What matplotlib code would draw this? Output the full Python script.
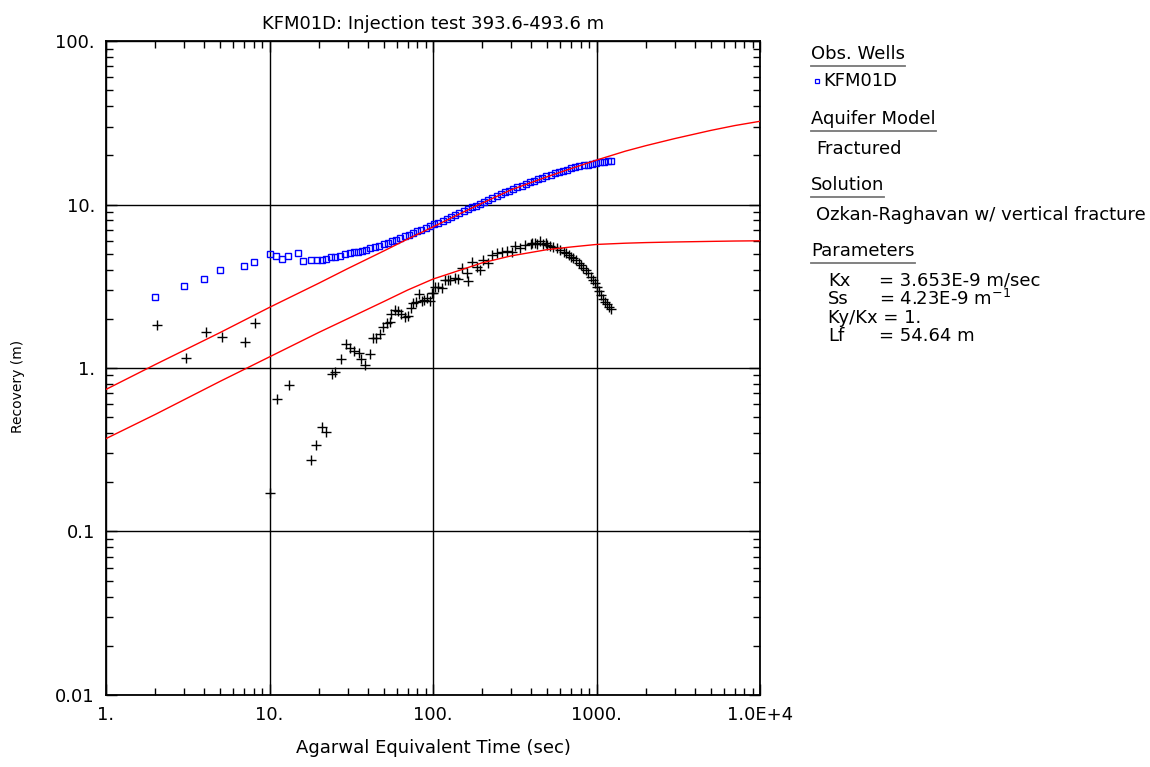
import matplotlib.pyplot as plt
from matplotlib.ticker import FixedLocator, LogLocator, NullFormatter

plt.rcParams['font.family'] = ['DejaVu Sans']

# recovery data (blue squares)
rec_t = [2, 3, 4, 5, 7, 8, 10, 11, 12, 13, 15, 16, 18, 19.4, 20.8, 22, 23.8, 25, 27, 29,
         31, 33, 35, 37, 39, 41, 44, 47, 50, 53, 56, 59, 63, 67, 71, 75, 80, 85, 90, 96,
         102, 108, 115, 122, 129, 137, 145, 154, 163, 173, 183, 194, 206, 218, 231, 245,
         260, 276, 292, 310, 328, 348, 369, 391, 414, 439, 465, 493, 523, 554, 587, 622,
         660, 700, 742, 786, 833, 883, 936, 992, 1050, 1110, 1170, 1230]
rec_s = [2.73, 3.17, 3.5, 3.96, 4.2, 4.47, 4.96, 4.82, 4.66, 4.84, 5.02, 4.53, 4.6, 4.6,
         4.6, 4.66, 4.75, 4.77, 4.84, 4.98,
         5.05, 5.1, 5.15, 5.2, 5.3, 5.4, 5.5, 5.6, 5.7, 5.85, 5.95, 6.05, 6.2, 6.4, 6.55,
         6.7, 6.85, 7.0, 7.15, 7.35, 7.55, 7.75, 7.95, 8.15, 8.35, 8.6, 8.85, 9.1, 9.35,
         9.6, 9.85, 10.1, 10.4, 10.65, 10.95, 11.25, 11.55, 11.85, 12.15, 12.45, 12.75,
         13.05, 13.35, 13.7, 14.0, 14.3, 14.6, 14.95, 15.25, 15.55, 15.8, 16.1, 16.35,
         16.65, 16.9, 17.1, 17.35, 17.55, 17.75, 17.95, 18.1, 18.25, 18.4, 18.5]

# derivative data (black crosses)
der_t = [2.04, 3.07, 4.06, 5.1, 7.06, 8.1, 10.1, 11.1, 13.1, 18, 19.2, 20.9, 22.2, 24,
         25.3, 27.3, 29.3, 31, 32.9, 35.3, 36.3, 38.4, 41.2, 43, 45, 47.5, 49.3, 52, 54.6,
         55.5, 58.5, 61, 64, 67.3, 70.6, 73, 75.5, 78.5, 82, 86, 88, 91.5, 96, 98, 100,
         103, 108, 113, 118, 123, 127, 136, 142, 150, 161, 164, 172, 185, 194, 202, 218,
         228, 245, 264, 282, 304, 318, 341, 365, 395, 402, 420, 430, 451, 472, 490, 500,
         520, 545, 572, 600, 630, 650, 675, 700, 720, 750, 777, 800, 830, 860, 892, 920,
         954, 980, 1000, 1030, 1060, 1090, 1120, 1160, 1200, 1230]
der_s = [1.84, 1.15, 1.65, 1.54, 1.45, 1.89, 0.171, 0.644, 0.783, 0.272, 0.338, 0.436,
         0.406, 0.92, 0.95, 1.13, 1.40, 1.33, 1.27, 1.23, 1.13, 1.05, 1.22, 1.53, 1.53,
         1.61, 1.77, 1.88, 1.92, 2.14, 2.26, 2.23, 2.14, 2.06, 2.08, 2.32, 2.49, 2.55,
         2.82, 2.57, 2.61, 2.69, 2.57, 2.86, 2.89, 3.14, 3.14, 3.1, 3.45, 3.45, 3.45,
         3.53, 3.5, 4.07, 3.79, 3.42, 4.47, 4.17, 3.98, 4.57, 4.4, 4.91, 5.02, 5.14,
         5.22, 5.14, 5.57, 5.4, 5.65, 5.7, 5.79, 5.85, 5.75, 6.0, 5.73, 5.8, 5.65, 5.57,
         5.5, 5.4, 5.3, 5.14, 5.05, 4.91, 4.8, 4.69, 4.55, 4.37, 4.25, 4.07, 3.95, 3.79,
         3.6, 3.45, 3.3, 3.14, 2.95, 2.79, 2.65, 2.55, 2.45, 2.35, 2.3]

# fitted model curves (red): recovery and derivative
fit_t = [1, 2, 5, 10, 20, 30, 50, 70, 100, 150, 200, 300, 500, 700, 1000, 1500, 2000,
         3000, 5000, 7000, 10000]
fit_s = [0.74, 1.05, 1.65, 2.35, 3.3, 4.05, 5.2, 6.15, 7.3, 8.9, 10.2, 12.3, 14.8, 16.6,
         18.7, 21.2, 22.9, 25.3, 28.4, 30.4, 32.3]
fit_d = [0.37, 0.52, 0.83, 1.17, 1.65, 2.0, 2.55, 3.0, 3.5, 4.0, 4.4, 4.85, 5.3, 5.5,
         5.7, 5.8, 5.85, 5.9, 5.95, 5.98, 6.0]

fig = plt.figure(figsize=(11.5, 7.67), dpi=100)
ax = fig.add_axes([0.0922, 0.0939, 0.5687, 0.8526])

ax.plot(fit_t, fit_s, color='red', lw=1, zorder=3)
ax.plot(fit_t, fit_d, color='red', lw=1, zorder=3)
ax.plot(rec_t, rec_s, ls='none', marker='s', ms=4.8, mfc='none', mec='#0000ff', mew=1, zorder=2)
ax.plot(der_t, der_s, ls='none', marker='+', ms=6.5, color='black', mew=1, zorder=2)

ax.set_xscale('log')
ax.set_yscale('log')
ax.set_xlim(1, 1e4)
ax.set_ylim(0.01, 100)

xt = [1, 10, 100, 1000, 10000]
yt = [0.01, 0.1, 1, 10, 100]
ax.xaxis.set_major_locator(FixedLocator(xt))
ax.yaxis.set_major_locator(FixedLocator(yt))
ax.set_xticklabels(['1.', '10.', '100.', '1000.', '1.0E+4'])
ax.set_yticklabels(['0.01', '0.1', '1.', '10.', '100.'])
ax.xaxis.set_minor_locator(LogLocator(base=10, subs=range(2, 10)))
ax.yaxis.set_minor_locator(LogLocator(base=10, subs=range(2, 10)))
ax.xaxis.set_minor_formatter(NullFormatter())
ax.yaxis.set_minor_formatter(NullFormatter())
ax.tick_params(which='both', direction='in', top=True, right=True, labelsize=13, color='black')
ax.tick_params(which='major', length=8, width=1, pad=8)
ax.tick_params(which='minor', length=5, width=1)
ax.grid(True, which='major', color='black', lw=1)
for sp in ax.spines.values():
    sp.set_linewidth(1.3)

ax.set_title('KFM01D: Injection test 393.6-493.6 m', fontsize=13, pad=9)
ax.set_xlabel('Agarwal Equivalent Time (sec)', fontsize=13, labelpad=11)
ax.set_ylabel('Recovery (m)', fontsize=10, va='center', ha='center')
ax.yaxis.set_label_coords(-0.1346, 0.4725)

# legend panel
W, H = 1150, 767
fs = 13
renderer = fig.canvas.get_renderer()


def heading(x, y, s):
    t = fig.text(x / W, 1 - y / H, s, fontsize=fs, va='center', ha='left')
    bb = t.get_window_extent(renderer)
    yy = 1 - (y + 11.5) / H
    fig.add_artist(plt.Line2D([bb.x0 / W, bb.x1 / W], [yy, yy], color='#777777', lw=1.3))


def item(x, y, s):
    fig.text(x / W, 1 - y / H, s, fontsize=fs, va='center', ha='left')


heading(811, 54, 'Obs. Wells')
fig.add_artist(plt.Line2D([817 / W], [1 - 81 / H], marker='s', ms=3.5, mfc='none',
                          mec='#0000ff', mew=0.9))
item(823, 81, 'KFM01D')
heading(811, 119, 'Aquifer Model')
item(816, 149, 'Fractured')
heading(811, 185, 'Solution')
item(816, 215, 'Ozkan-Raghavan w/ vertical fracture')
heading(811, 251, 'Parameters')
params = ['Kx', 'Ss', 'Ky/Kx', 'Lf']
values = ['= 3.653E-9 m/sec', '= 4.23E-9 m$^{-1}$', '= 1.', '= 54.64 m']
for i, (p, v) in enumerate(zip(params, values)):
    y = 281 + i * 18.3
    if p == 'Ky/Kx':
        item(828, y, p + ' ' + v)
    else:
        item(828, y, p)
        item(879, y, v)

fig.savefig('out.png', dpi=100)
